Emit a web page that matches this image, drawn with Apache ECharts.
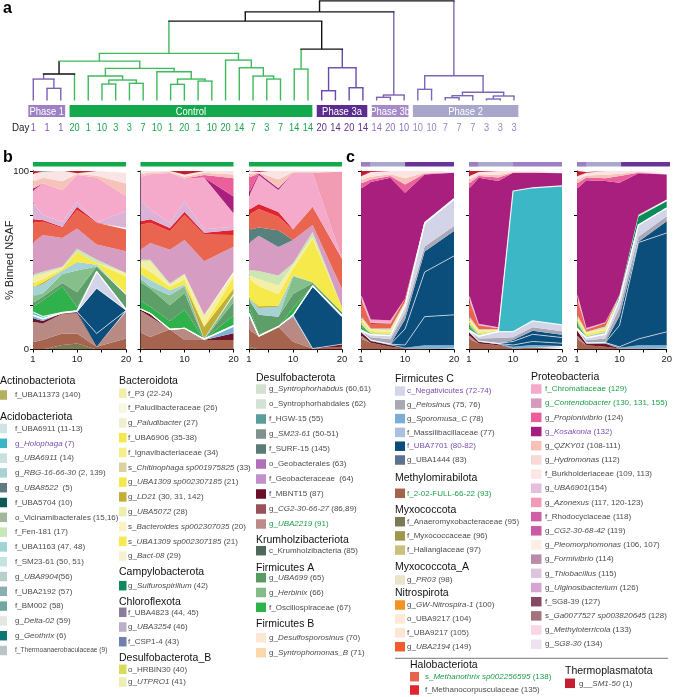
<!DOCTYPE html>
<html><head><meta charset="utf-8">
<script src="https://cdn.jsdelivr.net/npm/echarts@6/dist/echarts.min.js"></script>
<style>html,body{margin:0;padding:0;background:#fff}#c{width:675px;height:697px}</style>
</head><body><div id="c"></div><script>
const FONT = "'Liberation Sans', Arial, Helvetica, sans-serif";

// ---------- panel a: dendrogram ----------
const leafDays = ['1','1','1','20','1','10','3','3','7','10','1','20','1','10','20','14','7','3','7','14','14','20','14','20','14','14','20','10','10','10','7','7','7','3','3','3'];
const leafGroups = ['p1','p1','p1','c','c','c','c','c','c','c','c','c','c','c','c','c','c','c','c','c','c','a3','a3','a3','a3','b3','b3','b3','p2','p2','p2','p2','p2','p2','p2','p2'];
const phaseNames = {p1:'Phase 1', c:'Control', a3:'Phase 3a', b3:'Phase 3b', p2:'Phase 2'};
// merges: [left node, right node, height]; node ids >= 36 are earlier merges
const merges = [[1,2,12.2],[0,36,21.5],[37,3,26.5],[5,6,16.5],[7,8,17.2],[39,40,20.5],[4,41,24.5],[10,11,16.2],[12,13,19.5],[43,44,21.5],[9,45,28.8],[42,46,32.2],[38,47,39.5],[17,18,21.5],[16,49,24.5],[15,50,32.8],[14,51,40.5],[48,52,47.2],[19,20,31.5],[21,22,9.8],[23,24,12.8],[55,56,32.8],[54,57,51.5],[53,58,79.5],[25,26,3.2],[60,27,5.5],[59,61,88.8],[28,29,11.2],[30,31,2.8],[64,32,4.8],[33,34,1.5],[66,35,4.5],[65,67,8.2],[63,68,24.8],[62,69,99.8]];
const mergeGroups = ['p1','p1','k','c','c','c','c','c','c','c','c','c','c','c','c','c','c','c','c','a3','a3','a3','k','k','b3','b3','k','p2','p2','p2','p2','p2','p2','p2','k'];

// ---------- panels b, c: stacked areas ----------
const days = [1,3,7,10,14,20];
const taxa = ['f_Anaeromyxobacteraceae','f_2-02-FULL-66-22','g_UBA2219','f_MBNT15','g_Sporomusa_C','f_UBA7701 (80)','f_UBA7701 (81)','f_UBA7701 (82)','g_Pelosinus','c_Negativicutes','g_Holophaga','f_Oscillospiraceae','g_UBA699','g_Herbinix','g_Sulfurospirillum','f_UBA1163','g_LD21','f_UBA6906','f_P3','f_Fen-181','g_Contendobacter','f_SURF-15','s_Methanothrix','f_Methanocorpusculaceae','g_Ulginosibacterium','f_Chromatiaceae','g_Azonexus','g_Kosakonia','g_Propionivibrio','g_QZKY01','f_Burkholderiaceae','g_SM1-50','g_Geothrix'];
const taxaColors = ['#7b7a55','#a6644f','#b98a84','#6c1429','#7db1d6','#0c4e7b','#0c4e7b','#0c4e7b','#a8a8b6','#d4d4e8','#3cb7c6','#2fb24c','#5d9e69','#85bf8c','#0c8b5a','#a5d2d4','#c1ae34','#f5e94b','#f5efa6','#cce6b4','#d69cc1','#58807c','#e9654f','#e0252f','#dcb3d7','#f5aacb','#f29cb3','#a81f7d','#eb5f9b','#f7c2ba','#fbe4e4','#c41f30','#0e7571'];
const Z = [0,0,0,0,0,0];
const panelB1 = [
 [0,0,2.5,3.4,0,0],[4,5.5,6.5,5.6,1.5,6.2],[11.5,9,11,11.3,0,15],[2,1.5,0.5,0.9,0,0.3],[1.5,1,0,0,0,0],
 [0,0,0,0,7.5,0.3],[0,0,0,0,25.3,0.2],Z,Z,[0.5,0.5,0,0.5,9.4,0.5],
 [1.5,1,0.3,0,0,0],[3,9,14.5,2,0,0],[2,2,2,8.4,2.8,8],[4,2,5,12.2,0,0],Z,
 [5,5,2,4.7,1,1],[0,1,0,0,0,0],[2,2,1,5.6,1,9.4],[4,3,0.5,0,0,1.9],[1,1,0.7,1.9,1.9,0],
 [17.8,20.6,16,11.3,8.4,12.2],Z,[11.3,7.5,5.6,10.3,12.2,12.2],[1.9,1,0.5,1.9,0.3,1],[9.4,2.8,2.8,2.8,0,9.4],
 [6.6,17.8,17.8,15,25,8.4],Z,[1,0,0,0,0,0],Z,[4,3,5,0.5,1,7],
 [4.5,3.5,6,0.5,2.7,6],[1.5,0,0,1.5,0,1],[0,1,0,0,0,0]];
const panelB2 = [
 [0.5,0,0,0,0,0],[9,7,11.3,5.3,5.3,5.3],[12.2,11.3,0,6.6,0,0],[1,1.9,0,0,0,3.8],[0,0,0,0,0.5,3.8],
 Z,Z,Z,Z,[0,0,0,0,0,0.5],
 Z,[4.7,3.8,4.7,10.3,0,5.6],[10.3,10.2,8.8,9.4,0,7.5],[2,1,5.6,3.8,0,3.8],Z,
 [2.8,3.8,2.8,1,0.5,1],[0,0,0,0,6.5,2.8],[3.8,4.7,1.9,2.8,0.5,6.5],[2.8,5.6,1,2.8,5.6,1.9],[1.2,1,1,0.5,0.5,1],
 [5.6,9.4,18.8,18.8,30,14],Z,[14,11.3,10.3,14,15,6.6],[1.9,1.9,1.9,1.9,1,2.8],[12,5.6,2.8,5.6,1.9,1.9],
 [13,19.7,28,13,29,7.5],Z,[0,0,0,0,0,9.4],[0,0,0,0,1.5,10.3],[1.5,1,0.6,1,1.2,2],
 [1.7,0.8,0.5,1.2,1,2],[0,0,0,2,0,0],Z];
const panelB3 = [
 [1.5,0,0,0,0,0],[9.4,7.5,12.8,4.3,0.5,1.5],[7.5,0,0,14,0,0],[0,0,0,0,0,1.5],[1.9,0,0,1,0,0],
 Z,[0,0,0,0,34.7,15.4],Z,Z,[0,0,0,0,0.5,0.5],
 Z,[3.8,1,0,3.8,0,0],[3.8,10.9,5.6,8,1.5,1.9],[0,0,0,10,0.5,0],Z,
 [1,3.8,5.6,0.5,0,0],[0,1,0.5,0,0,0],[11,11.3,6.6,3.8,24.4,2.8],[1.9,3.8,4.7,1.9,1,0],[2.8,4.7,5.6,1,2.8,0],
 [15,19.7,16,13,3.8,10.3],[7.5,4.7,9.4,0,0,0],[8.4,10.3,7.5,5.6,10.3,16.9],[2.8,2.8,2.8,0.5,0,0],Z,
 [7.5,16.3,12.2,31.6,19,0],[0,0,0,0,0,48.8],[1.9,1,1,0,0,0],[8.5,0,0,0,0,0],[2,0.4,5,0.5,0.5,0.5],
 [1.8,0.3,5.2,0.5,0.5,0.5],[0,0.5,0,0,0,0],Z];
const panelC1 = [
 Z,[6,3.8,1.5,0.5,0.5,0.5],[2,0,0,0,0,0],[2,1,1,0,0,0],[0,0.5,0.5,0.5,1.9,1.9],
 [0,0,0,1.5,16,17],[0,0,0,9,25,33],[0,0,0,5.5,11.5,14],[0,1.5,2.8,3.5,2.8,2.8],[0.5,1.5,2,4,13,15],
 [0.5,0,0,0,0,0],[2,0.5,0.5,0.3,0.3,0.2],[1,0,0,0,0,0],Z,Z,
 [1,0.5,0.5,0.3,0,0],Z,[1.5,1,1,0.5,0,0],[1,1,1,0.5,0,0],[0.5,0.5,1,0.6,0.5,0.5],
 [1,0,0,0,0,0],Z,[8,2.5,2.5,1.9,0,0],[1,0.5,0.3,0,0,0],[1,0.5,0.3,0,0,0],
 [2,1.5,1.5,0,0,0],Z,[59,77,79.8,59.2,26.5,14.1],[3,1.5,1,4.7,0.5,0.3],[2,1.5,1,3.5,0.5,0.3],
 [2,2.7,1.8,4,1,0.4],[3,0.5,0,0,0,0],Z];
const panelC2 = [
 Z,[6,3.4,2.4,0.5,1,1],[2,0,0,0,0,0],[2,1,0.5,0,0,0],[0,0.3,0.5,1,1.5,1],
 [0,0,0,1,2,1.5],[0,0,0,2,4,3.2],[0,0,0,0.8,2,1.5],[0,1.5,3,1.5,2,2],[0.5,1.3,3.6,3.2,3.6,3.6],
 [0.5,0,0,78.8,74.5,77.9],[2,0.5,0,0,0,0],[1,0,0,0,0,0],Z,Z,
 [1,0.5,0.3,0,0,0],Z,[1.5,1,0.3,0,0,0],[1,1.4,0.5,0,0,0],[0.5,0.5,0.3,0,0,0],
 [1,0,0,0,0,0],Z,[8,1.9,0.5,0,0,0],[1,0.3,0,0,0,0],[1,0.3,0,0,0,0],
 [2,0.5,0.5,0,0,0],Z,[59,81.8,82,10.2,8.4,7],[3,1,1.9,0,0,0],[2,1,1.5,0.5,0.5,0.6],
 [2,1.3,2.2,0.5,0.5,0.7],[3,0.5,0,0,0,0],Z];
const panelC3 = [
 Z,[6,2.4,1.5,0.5,0.5,0.5],[2,0,0,0,0,0],[3,1,1.9,0,0,0],[0,0.3,0.5,0.5,1.9,1.9],
 [0,0,0,0.5,3.5,7.5],[0,0,0,12,54,55.4],[0,0,0,5.3,0.5,6.5],[0,1.5,2.3,4.4,2.8,2.8],[0.5,1.3,2.4,5,6.6,4.7],
 [0.5,0,0,0,0,0],[2,0.5,0.5,0,0,0],[1,0,0,0,0,0],Z,[0,0,0,1.9,4.7,3.8],
 [1,0.5,0.8,0,0,0],Z,[1.5,1,1,0,0,0],[1,1,1,0,0,0],[0.5,0.5,1,0.4,1,1],
 [1,0,0,0,0,0],Z,[8,0.9,1.9,0,0,0],[1,0.3,0,0,0,0],[1,0.3,0,0,0,0],
 [2,0.5,0.5,0,0,0],Z,[58,82.8,79.1,62.9,23.2,14],[3,1.5,1.5,3.8,0.3,0.5],[2,1.2,2,1.3,0.5,0.7],
 [2,1.5,2.1,1.5,0.5,0.7],[3,0.5,0,0,0,0],Z];
const panels = [panelB1, panelB2, panelB3, panelC1, panelC2, panelC3];
// phase spans (day ranges) shown above each panel
const panelPhases = [
 [[1,20,'c']],[[1,20,'c']],[[1,20,'c']],
 [[1,3,'p1'],[3,10,'p2'],[10,20,'a3']],
 [[1,3,'p1'],[3,10,'p2'],[10,20,'b3']],
 [[1,3,'p1'],[3,10,'p2'],[10,20,'a3']]];
const xTicks = [1,5,10,15,20];
const xTickLabels = [1,10,20];
const yTickLabels = [0,100];

// ---------- legend content ----------
const legendGroups = [
 ['Actinobacteriota',[['f_UBA11373 (140)','#b3b05b']]],
 ['Acidobacteriota',[['f_UBA6911 (11-13)','#d0e4e3'],['g_*Holophaga* (7)','#3ab5c6','p'],['g_*UBA6911* (14)','#c9e1df'],['g_*RBG-16-66-30* (2, 139)','#a9d2d2'],['g_*UBA8522*  (5)','#5e7b7d'],['f_UBA5704 (10)','#0b5a53'],['o_Vicinamibacterales (15,16)','#a3b89b'],['f_Fen-181 (17)','#c8e6b9'],['f_UBA1163 (47, 48)','#a0d3d4'],['f_SM23-61 (50, 51)','#c6e3e4'],['g_*UBA8904*(56)','#b8cfcf'],['f_UBA2192 (57)','#88aeb0'],['f_BM002 (58)','#70a7a1'],['g_*Delta-02* (59)','#e3e6e3'],['g_*Geothrix* (6)','#0e7572'],['f_Thermoanaerobaculaceae (9)','#bac4c4','s']]],
 ['Bacteroidota',[['f_P3 (22-24)','#f3eea9'],['f_Paludibacteraceae (26)','#f9f7e0'],['g_*Paludibacter* (27)','#f1f0cc'],['f_UBA6906 (35-38)','#f5e84a'],['f_Ignavibacteriaceae (34)','#f8ed88'],['s_*Chitinophaga sp001975825* (33)','#d9d1a0'],['g_*UBA1309 sp002307185* (21)','#f4e84e'],['g_*LD21* (30, 31, 142)','#c3ae37'],['g_*UBA5072* (28)','#eeeeb0'],['s_*Bacteroides sp002307035* (20)','#faf3c6'],['s_*UBA1309 sp002307185* (21)','#f7e94f'],['g_*Bact-08* (29)','#f4f2d0']]],
 ['Campylobacterota',[['g_*Sulfurospirillum* (42)','#0f8b5b']]],
 ['Chloroflexota',[['f_UBA4823 (44, 45)','#8b7c9a'],['g_*UBA3254* (46)','#bbaec9'],['f_CSP1-4 (43)','#6f7fae']]],
 ['Desulfobacterota_B',[['o_HRBIN30 (40)','#d8dd55'],['g_*UTPRO1* (41)','#edeeb3']]],
 ['Desulfobacterota',[['g_*Syntrophorhabdus* (60,61)','#d5e1d0'],['o_Syntrophorhabdales (62)','#d4e2d5'],['f_HGW-15 (55)','#5a9e9c'],['g_*SM23-61* (50-51)','#80918e'],['f_SURF-15 (145)','#5a7b78'],['o_Geobacterales (63)','#b070b9'],['f_Geobacteraceae  (64)','#c291cb'],['f_MBNT15 (87)','#6b0e2a'],['g_*CG2-30-66-27* (86,89)','#995259'],['g_*UBA2219* (91)','#bc8b87','g']]],
 ['Krumholzibacteriota',[['c_Krumholzibacteria (85)','#4f6a5d']]],
 ['Firmicutes A',[['g_*UBA699* (65)','#5a9b64'],['g_*Herbinix* (66)','#86bb89'],['f_Oscillospiraceae (67)','#2db34a']]],
 ['Firmicutes B',[['g_*Desulfosporosinus* (70)','#fce7d3'],['g_*Syntrophomonas_B* (71)','#fcd9aa']]],
 ['Firmicutes C',[['c_Negativicutes (72-74)','#d5d5e9','p'],['g_*Pelosinus* (75, 76)','#a9a9b5'],['g_*Sporomusa_C* (78)','#7aaed3'],['f_Massilibacillaceae (77)','#a9c2e1'],['f_UBA7701 (80-82)','#0a4d7b','p'],['g_UBA1444 (83)','#5e7190']]],
 ['Methylomirabilota',[['f_2-02-FULL-66-22 (93)','#a5634e','g']]],
 ['Myxococcota',[['f_Anaeromyxobacteraceae (95)','#7b7a55'],['f_Myxococcaceae (96)','#9a994c'],['f_Haliangiaceae (97)','#c9c17e']]],
 ['Myxococcota_A',[['g_*PR03* (98)','#e9e5cd']]],
 ['Nitrospirota',[['g_*GW-Nitrospira-1* (100)','#f39321'],['o_UBA9217 (104)','#fde9d6'],['f_UBA9217 (105)','#fde6cf'],['g_*UBA2194* (149)','#f15a2b']]],
 ['Halobacteriota',[['s_*Methanothrix sp002256595* (138)','#e8634f','g'],['f_Methanocorpusculaceae (135)','#e1252f']]],
 ['Proteobacteria',[['f_Chromatiaceae (129)','#f4a9ca','g'],['g_*Contendobacter* (130, 131, 155)','#d49bbf','g'],['g_*Propionivibrio* (124)','#eb5d9b'],['g_*Kosakonia* (132)','#a51d7e','p'],['g_*QZKY01* (108-111)','#f7c1b8'],['g_*Hydromonas* (112)','#f9d8d8'],['f_Burkholderiaceae (109, 113)','#fce6e6'],['g_*UBA6901*(154)','#e4bedc'],['g_*Azonexus* (117, 120-123)','#f39ab6'],['f_Rhodocyclaceae (118)','#cc5fa6'],['g_*CG2-30-68-42* (119)','#c95aa5'],['g_*Pleomorphomonas* (106, 107)','#fdeee6'],['g_*Formivibrio* (114)','#b98da9'],['g_*Thiobacillus* (115)','#dfc4de'],['g_*Ulginosibacterium* (126)','#d8a4d2'],['f_SG8-39 (127)','#874863'],['s_*Ga0077527 sp003820645* (128)','#a2727f'],['g_*Methyloterricola* (133)','#f9d6e6'],['g_*SG8-30* (134)','#ede3ee']]],
 ['Thermoplasmatota',[['g__*SM1-50* (1)','#c41f30']]]
];
// legend layout: [column, headerY, firstItemY, step]
const legendLayout = [[0,381,395,14],[0,417.5,428.5,14.8],[1,381,393.3,14.8],[1,572.3,585.7,14],[1,601.7,612.3,14.7],[1,657.7,669.3,12.7],[2,377.7,389,15],[2,540,550.7,14],[2,567.7,577.7,14.8],[2,624.3,637.7,15],[3,379,391,13.8],[3,478.3,493.3,14],[3,510,521.7,14.2],[3,566.7,580,14],[3,593.3,605,13.9],[5,665,676.7,13.3],[4,377,389,14.18],[6,671,683.3,14]];
const legendCols = [{hx:0,sx:-3,sw:10,tx:15},{hx:119,sx:119,sw:7.5,tx:128},{hx:256,sx:256,sw:10,tx:269},{hx:395,sx:395,sw:10,tx:407},{hx:531,sx:531,sw:10.5,tx:545},{hx:410,sx:410,sw:9,tx:425},{hx:565,sx:565,sw:10,tx:579}];

// ---------- styling maps ----------
const boxColor = {p1:'#9c80c1', c:'#12a84b', a3:'#5c2c8f', b3:'#a48bc7', p2:'#a8a6ca'};
const barColor = {p1:'#9c80c1', c:'#12a84b', a3:'#6b3399', b3:'#9d7fc6', p2:'#a9a7cb'};
const lineColor = {p1:'#7d60b3', c:'#3dba5c', a3:'#6a4aa8', b3:'#7d60b3', p2:'#7d66b8', k:'#111111'};
const dayColor = {p1:'#7b58ae', c:'#1ea64e', a3:'#5d2f91', b3:'#8f72c0', p2:'#9488c4'};
const textColor = {p:'#7b4fb0', g:'#1f9e4a'};

// ---------- build ----------
const chart = echarts.init(document.getElementById('c'), null, {renderer:'canvas'});
const grids = [], xAxes = [], yAxes = [], series = [];
const panelLeft = [33, 140.5, 249, 361, 469, 577];
const PW = 93, PTOP = 171, PH = 178.5;

panels.forEach((rows, p) => {
  grids.push({left: panelLeft[p], top: PTOP, width: PW, height: PH});
  xAxes.push({gridIndex: p, type:'value', min:1, max:20,
    axisLine:{show:true, onZero:false, lineStyle:{color:'#000', width:1}},
    axisTick:{show:true, customValues:xTicks, length:3, lineStyle:{color:'#000', width:1}},
    axisLabel:{show:true, customValues:xTickLabels, fontSize:9.5, fontFamily:FONT, color:'#222', margin:5},
    splitLine:{show:false}});
  yAxes.push({gridIndex: p, type:'value', min:0, max:100, interval:25,
    axisLine:{show:true, lineStyle:{color:'#000', width:1}},
    axisTick:{show:true, length:3, lineStyle:{color:'#000', width:1}},
    axisLabel:{show: p === 0, customValues: yTickLabels, fontSize:9.5, fontFamily:FONT, color:'#222', margin:4},
    splitLine:{show:false},
    name: p === 0 ? '% Binned NSAF' : '', nameLocation:'middle', nameRotate:90, nameGap:18, nameMoveOverlap:false,
    nameTextStyle:{fontSize:11, fontFamily:FONT, color:'#222'}});
  rows.forEach((vals, t) => {
    const white = (t === 5 || t === 6 || t === 9 || t === 10);
    // data as [value, day] so that the stack is computed on the value (y) dimension
    series.push({type:'line', name: taxa[t], xAxisIndex:p, yAxisIndex:p, stack:'s'+p,
      data: days.map((d,i) => [vals[i], d]), encode:{x:1, y:0},
      symbol:'none', showSymbol:false, silent:true,
      lineStyle: white ? {color:'rgba(255,255,255,0.9)', width:(t===9||t===10)?1.2:0.7} : {width:0},
      areaStyle:{color: taxaColors[t], opacity:1}, emphasis:{disabled:true}, z:2});
  });
});
// phase bars above panels
panels.forEach((rows, p) => {
  const gi = 6 + p;
  grids.push({left: panelLeft[p], top: 162, width: PW, height: 4.6});
  xAxes.push({gridIndex: gi, type:'value', min:1, max:20, show:false});
  yAxes.push({gridIndex: gi, type:'value', min:0, max:1, show:false});
  series.push({type:'custom', xAxisIndex:gi, yAxisIndex:gi, silent:true,
    data: panelPhases[p].map(s => [s[0], s[1]]),
    renderItem: (params, api) => {
      const s = panelPhases[p][params.dataIndex];
      const a = api.coord([s[0], 0]), b = api.coord([s[1], 1]);
      return {type:'rect', shape:{x:a[0], y:b[1], width:b[0]-a[0], height:a[1]-b[1]}, style:{fill: barColor[s[2]]}};
    }});
});
// dendrogram grid
const DG = 12;
grids.push({left: 26.43, top: 0.7, width: 494.4, height: 116.77});
xAxes.push({gridIndex: DG, type:'value', min:-0.5, max:35.5, show:false});
yAxes.push({gridIndex: DG, type:'value', min:-17, max:100, show:false});

const nodeX = [], nodeH = [], nodeG = [];
leafDays.forEach((d,i) => { nodeX[i] = i; nodeH[i] = 0; nodeG[i] = leafGroups[i]; });
merges.forEach((m,k) => { nodeX[36+k] = (nodeX[m[0]] + nodeX[m[1]])/2; nodeH[36+k] = m[2]; nodeG[36+k] = mergeGroups[k]; });
series.push({type:'custom', xAxisIndex:DG, yAxisIndex:DG, silent:true, z:3,
  data: merges.map((m,k) => [nodeX[m[0]], nodeX[m[1]], nodeH[m[0]], nodeH[m[1]], m[2], k]),
  renderItem: (params, api) => {
    const k = api.value(5), m = merges[k];
    const lb = api.coord([api.value(0), api.value(2)]), lt = api.coord([api.value(0), api.value(4)]);
    const rb = api.coord([api.value(1), api.value(3)]), rt = api.coord([api.value(1), api.value(4)]);
    const w = 1.4;
    return {type:'group', children:[
      {type:'line', shape:{x1:lb[0], y1:lb[1], x2:lt[0], y2:lt[1]}, style:{stroke: lineColor[nodeG[m[0]]], lineWidth:w}},
      {type:'line', shape:{x1:rb[0], y1:rb[1], x2:rt[0], y2:rt[1]}, style:{stroke: lineColor[nodeG[m[1]]], lineWidth:w}},
      {type:'line', shape:{x1:lt[0]-w/2, y1:lt[1], x2:rt[0]+w/2, y2:rt[1]}, style:{stroke: lineColor[mergeGroups[k]], lineWidth:w}}
    ]};
  }});
// day labels under each leaf
series.push({type:'custom', xAxisIndex:DG, yAxisIndex:DG, silent:true, z:3,
  data: leafDays.map((d,i) => [i, -17]),
  renderItem: (params, api) => {
    const i = params.dataIndex;
    const pt = api.coord([api.value(0), api.value(1)]);
    return {type:'text', x: pt[0], y: pt[1] + 10.8, scaleX: 0.8,
      style:{text: leafDays[i], fill: dayColor[leafGroups[i]], fontSize:11.5, fontFamily:FONT, align:'center', verticalAlign:'middle'}};
  }});
// phase boxes under the dendrogram
const groupOrder = ['p1','c','a3','b3','p2'];
const boxes = groupOrder.map(g => [leafGroups.indexOf(g), leafGroups.lastIndexOf(g), g]);
series.push({type:'custom', xAxisIndex:DG, yAxisIndex:DG, silent:true, z:3,
  data: boxes.map(b => [b[0], b[1]]),
  renderItem: (params, api) => {
    const b = boxes[params.dataIndex];
    const bw = api.size([1, 0])[0];
    const a = api.coord([b[0], -4.5]), c = api.coord([b[1], -16.5]);
    const x0 = a[0] - 0.36*bw, x1 = c[0] + 0.32*bw;
    return {type:'group', children:[
      {type:'rect', shape:{x:x0, y:a[1], width:x1-x0, height:c[1]-a[1]}, style:{fill: boxColor[b[2]]}},
      {type:'text', x:(x0+x1)/2, y:(a[1]+c[1])/2 + 0.5, scaleX:0.82, style:{text: phaseNames[b[2]], fill:'#fff', fontSize:11.5, fontFamily:FONT, align:'center', verticalAlign:'middle'}}
    ]};
  }});

// ---------- graphic texts & legend ----------
const gfx = [];
gfx.push({type:'text', x:3, y:1, style:{text:'a', fontSize:16, fontWeight:'bold', fontFamily:FONT, fill:'#000'}});
gfx.push({type:'text', x:3, y:150, style:{text:'b', fontSize:16, fontWeight:'bold', fontFamily:FONT, fill:'#000'}});
gfx.push({type:'text', x:346, y:150, style:{text:'c', fontSize:16, fontWeight:'bold', fontFamily:FONT, fill:'#000'}});
gfx.push({type:'text', x:12, y:128, scaleX:0.85, style:{text:'Day', fontSize:11.5, fontFamily:FONT, fill:'#222', verticalAlign:'middle'}});
gfx.push({type:'line', shape:{x1:395, y1:658.3, x2:668, y2:658.3}, style:{stroke:'#777', lineWidth:1}});

function richLabel(label) {
  return label.split('*').map((s, k) => '{' + (k % 2 ? 'i' : 'n') + '|' + s + '}').join('');
}
legendGroups.forEach((grp, gi) => {
  const [col, hy, fy, step] = legendLayout[gi];
  const C = legendCols[col];
  gfx.push({type:'text', x:C.hx, y:hy, style:{text:grp[0], fontSize:10.5, fontFamily:FONT, fill:'#111', verticalAlign:'middle'}});
  grp[1].forEach((it, j) => {
    const y = fy + j*step;
    const fs = it[2] === 's' ? 6.6 : 8;
    const col2 = textColor[it[2]] || '#4d4d4d';
    gfx.push({type:'rect', shape:{x:C.sx, y:y-4.75, width:C.sw, height:9.5}, style:{fill: it[1]}});
    gfx.push({type:'text', x:C.tx, y:y, style:{text: richLabel(it[0]), fontSize:fs, fontFamily:FONT, fill:col2, verticalAlign:'middle',
      rich:{n:{fontSize:fs, fontFamily:FONT, fill:col2}, i:{fontSize:fs, fontFamily:FONT, fill:col2, fontStyle:'italic'}}}});
  });
});

chart.setOption({
  animation:false,
  backgroundColor:'#fff',
  textStyle:{fontFamily:FONT},
  grid: grids, xAxis: xAxes, yAxis: yAxes, series: series,
  graphic:{elements: gfx}
});
</script></body></html>
